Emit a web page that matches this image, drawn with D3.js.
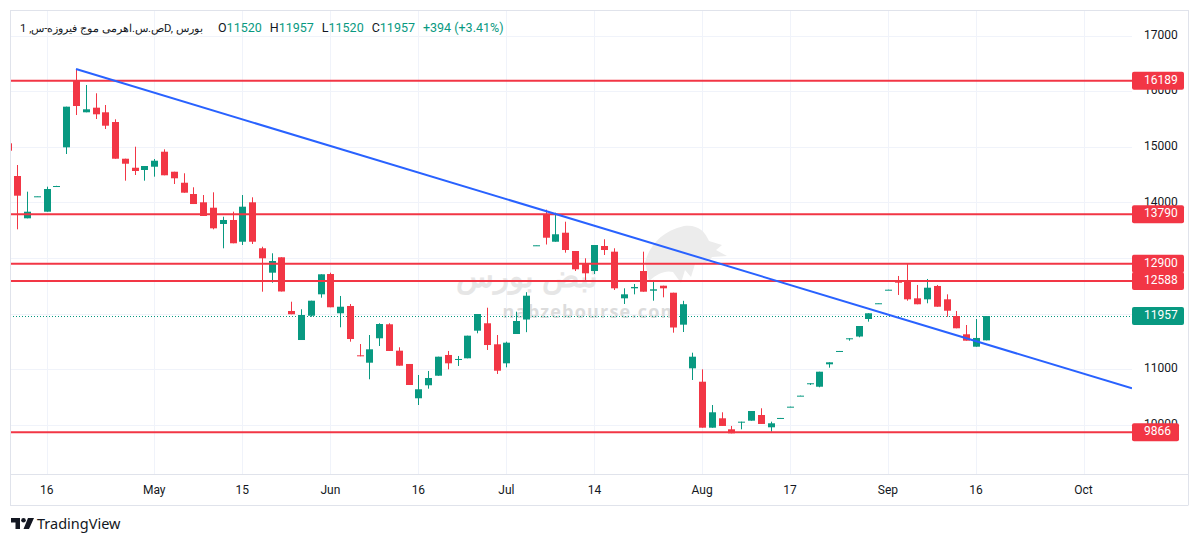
<!DOCTYPE html>
<html><head><meta charset="utf-8">
<script src="https://cdn.jsdelivr.net/npm/d3@7"></script>
<style>
body{margin:0;background:#fff;}
svg{display:block;font-family:"Trebuchet MS",Roboto,"Noto Sans",sans-serif;}
</style>
</head><body>
<svg id="c" width="1200" height="543"></svg>
<script>
// ---- data (first entry is the partly hidden bar at the left edge) ----
const opens  = [15064,14476,13715,14105,13834,14290,14992,16190,15622,15705,15622,15447,14787,14625,14584,14643,14913,14553,14355,14152,14003,13906,13613,13685,13294,14003,13176,12737,13014,12048,11526,11963,12348,12713,12007,12138,11251,11118,11557,11809,11334,11095,10478,10712,10884,11257,11167,11197,11694,11827,11449,11107,11634,11895,13225,13793,13294,13456,13127,12906,12767,13217,13115,12276,12456,12767,12413,12503,12377,11802,11017,10776,9949,10118,9920,10039,10075,10177,9956,10118,10320,10518,10742,10686,11089,11322,11550,11589,11904,12180,12425,12575,12588,12276,12258,12498,12258,11958,11629,11406,11520];
const highs  = [15100,14674,14194,14111,14284,14300,15723,16400,16113,15964,15753,15496,14787,15003,14656,14782,14956,14553,14525,14273,14134,14183,13744,13834,14134,14093,13204,13086,13014,12215,12079,12233,12708,12737,12318,12174,11454,11616,11827,11827,11395,11095,10897,10969,11226,11329,11239,11604,11994,12107,11616,11496,12035,12386,13230,13870,13816,13654,13127,12996,13235,13338,13176,12456,12534,13115,12606,12503,12377,12231,11298,10999,10357,10226,9980,10057,10249,10298,10057,10124,10327,10525,10748,10956,11125,11329,11557,11778,12007,12187,12431,12678,12893,12516,12624,12516,12348,12048,11796,11904,11957];
const lows   = [14900,13517,13715,14105,13834,14290,14872,15573,15622,15501,15321,14787,14392,14494,14392,14464,14489,14332,14176,13972,13757,13517,13176,13266,13235,13253,12395,12557,12399,11989,11526,11945,12287,12115,11755,11496,11233,10820,11418,11329,11064,10717,10357,10650,10884,10999,11059,11197,11647,11347,10915,11035,11634,11667,13225,13244,13294,13097,12767,12606,12713,13055,12426,12174,12348,12395,12233,12294,11658,11670,10807,9949,9949,9980,9848,9920,10075,10016,9877,10118,10320,10518,10717,10676,11028,11322,11514,11575,11856,12180,12425,12336,12233,12169,12187,12125,11945,11737,11514,11406,11520];
const closes = [14931,14122,13834,14111,14242,14296,15723,15735,15676,15586,15381,14787,14697,14566,14656,14751,14489,14435,14176,13972,13757,13535,13685,13266,13924,13294,12996,12947,12399,11989,11976,12233,12708,12115,12125,11544,11233,11359,11814,11329,11064,10717,10640,10843,11226,11107,11185,11604,11994,11436,10974,11478,11868,12323,13230,13366,13428,13145,12798,12726,13235,13145,12456,12348,12480,12395,12438,12456,11751,12170,11226,9949,10226,9980,9848,10057,10249,10016,10028,10124,10327,10525,10748,10956,11125,11329,11557,11778,12007,12187,12431,12557,12258,12169,12467,12125,12053,11737,11514,11563,11957];

const levels = [16189, 13790, 12900, 12588, 9866];
const lastPrice = 11957;
const trendBars = [7, 99];
const trendValues = [16400, 11506];

const tickLabels = ["16","May","15","Jun","16","Jul","14","Aug","17","Sep","16","Oct"];
const tickBars   = [4,15,24,33,42,51,60,71,80,90,99,110];
const gridPrices = [10000,11000,12000,13000,14000,15000,16000,17000];
const priceLabels = [10000,11000,14000,15000,16000,17000]; // 12000 and 13000 sit fully under the tags

const titleText = "ص.س.اهرمی موج فیروزه-س, 1D, بورس";
const ohlcLabels = ["O","H","L","C"];
const ohlcValues = ["11520","11957","11520","11957"];
const changeText = "+394 (+3.41%)";

// ---- layout ----
const UP="#089981", DOWN="#f23645", GRID="#f0f3fa", BORDER="#e0e3eb", TXT="#131722";
const plot={l:10,r:1132,t:10,b:474};
const svg=d3.select("#c");
const x=d3.scaleLinear().domain([0.2535,114.95]).range([plot.l,plot.r]);
const y=d3.scaleLinear().domain([9116,17462]).range([plot.b,plot.t]);

svg.append("defs").append("clipPath").attr("id","pc")
  .append("rect").attr("x",plot.l).attr("y",plot.t).attr("width",plot.r-plot.l).attr("height",plot.b-plot.t);

// grid
const g=svg.append("g");
g.selectAll(".hg").data(gridPrices).join("line")
  .attr("x1",plot.l).attr("x2",plot.r)
  .attr("y1",d=>Math.round(y(d))+0.5).attr("y2",d=>Math.round(y(d))+0.5)
  .attr("stroke",GRID);
g.selectAll(".vg").data(tickBars).join("line")
  .attr("x1",d=>Math.round(x(d))+0.5).attr("x2",d=>Math.round(x(d))+0.5)
  .attr("y1",plot.t).attr("y2",plot.b).attr("stroke",GRID);

// watermark
const wm=svg.append("g").attr("pointer-events","none");
wm.append("path").attr("fill","#ececec")
  .attr("d","M645,262 C650,245 662,231 684,226 C697,224 705,231 709,241 L722,245 L716,250 L727,256 L712,257 C708,263 701,266 695,264 L691,277 L685,270 L681,283 L673,272 C665,270 657,274 649,281 Z");
wm.append("text").attr("x",527).attr("y",287).attr("text-anchor","middle")
  .attr("font-size",31).attr("font-weight","bold").attr("fill","#e6e6e6")
  .attr("font-family","'Noto Sans',sans-serif").text("نبض بورس");
wm.append("text").attr("x",591).attr("y",318).attr("text-anchor","middle")
  .attr("font-size",18).attr("font-weight","bold").attr("letter-spacing",1.2).attr("fill","#dcdcdc")
  .attr("font-family","'Open Sans',sans-serif").text("nabzebourse.com");

const pg=svg.append("g").attr("clip-path","url(#pc)");

// last price dotted line
pg.append("line").attr("x1",plot.l).attr("x2",plot.r)
  .attr("y1",Math.round(y(lastPrice))+0.5).attr("y2",Math.round(y(lastPrice))+0.5)
  .attr("stroke",UP).attr("stroke-dasharray","1,2");

// candles
const bars=d3.range(opens.length).map(i=>({i,o:opens[i],h:highs[i],l:lows[i],c:closes[i]}));
const cg=pg.append("g");
cg.selectAll(".w").data(bars).join("line")
  .attr("x1",d=>Math.round(x(d.i))+0.5).attr("x2",d=>Math.round(x(d.i))+0.5)
  .attr("y1",d=>y(d.h)).attr("y2",d=>y(d.l))
  .attr("stroke",d=>d.c>=d.o?UP:DOWN).attr("stroke-width",1);
cg.selectAll(".b").data(bars).join("rect")
  .attr("x",d=>Math.round(x(d.i))-3).attr("width",7)
  .attr("y",d=>Math.min(y(d.o),y(d.c)))
  .attr("height",d=>Math.max(1,Math.abs(y(d.o)-y(d.c))))
  .attr("fill",d=>d.c>=d.o?UP:DOWN);

// horizontal levels
pg.selectAll(".lv").data(levels).join("line")
  .attr("x1",plot.l).attr("x2",plot.r)
  .attr("y1",d=>y(d)).attr("y2",d=>y(d))
  .attr("stroke",DOWN).attr("stroke-width",2);

// trend line extended to the right
const slope=(trendValues[1]-trendValues[0])/(trendBars[1]-trendBars[0]);
const endBar=x.domain()[1];
pg.append("line")
  .attr("x1",x(trendBars[0])).attr("y1",y(trendValues[0]))
  .attr("x2",x(endBar)).attr("y2",y(trendValues[0]+slope*(endBar-trendBars[0])))
  .attr("stroke","#2962ff").attr("stroke-width",2);

// borders
svg.append("line").attr("x1",plot.l).attr("x2",1188).attr("y1",plot.b+0.5).attr("y2",plot.b+0.5).attr("stroke",BORDER);
svg.append("line").attr("x1",plot.l).attr("x2",1188).attr("y1",505.5).attr("y2",505.5).attr("stroke",BORDER);
svg.append("line").attr("x1",plot.l+0.5).attr("x2",plot.l+0.5).attr("y1",plot.t).attr("y2",505.5).attr("stroke",BORDER);
svg.append("line").attr("x1",1188.5).attr("x2",1188.5).attr("y1",plot.t).attr("y2",505.5).attr("stroke",BORDER);
svg.append("line").attr("x1",plot.l).attr("x2",1188).attr("y1",plot.t+0.5).attr("y2",plot.t+0.5).attr("stroke",BORDER);

// time axis labels
svg.append("g").selectAll("text").data(tickBars).join("text")
  .attr("x",d=>x(d)).attr("y",491).attr("text-anchor","middle").attr("dominant-baseline","middle")
  .attr("font-size",12).attr("fill",TXT).text((d,i)=>tickLabels[i]);

// price axis labels
svg.append("g").selectAll("text").data(priceLabels).join("text")
  .attr("x",1144).attr("y",d=>y(d)).attr("dominant-baseline","middle")
  .attr("font-size",12).attr("fill",TXT).text(d=>d);

// level & last price tags
const tags=levels.map(v=>({v,col:DOWN})).concat([{v:lastPrice,col:UP}]);
const tg=svg.append("g");
tags.forEach(t=>{
  const txt=String(t.v);
  const w=txt.length>=5?52:47;
  tg.append("rect").attr("x",1132).attr("y",y(t.v)-9).attr("width",w).attr("height",18).attr("rx",2).attr("fill",t.col);
  tg.append("text").attr("x",1144).attr("y",y(t.v)).attr("dominant-baseline","middle")
    .attr("font-size",12).attr("fill","#fff").text(txt);
});

// header legend
const title=svg.append("text").attr("x",20).attr("y",32).attr("font-size",13).attr("fill",TXT).text(titleText);
const tw=title.node().getComputedTextLength();
const wantTitle=190;
if(tw>wantTitle) title.attr("font-size",13*wantTitle/tw);
const lg=svg.append("text").attr("x",218).attr("y",32).attr("font-size",12.5);
ohlcLabels.forEach((lab,i)=>{
  lg.append("tspan").attr("fill",TXT).attr("dx",i?8:0).text(lab);
  lg.append("tspan").attr("fill",UP).text(ohlcValues[i]);
});
lg.append("tspan").attr("fill",UP).attr("dx",8).text(changeText);
const lw=lg.node().getComputedTextLength();
if(lw>285) lg.attr("textLength",285).attr("lengthAdjust","spacingAndGlyphs");

// TradingView logo
const lo=svg.append("g").attr("fill",TXT);
lo.append("path").attr("d","M11,518 H20 V529 H15.5 V522.5 H11 Z");
lo.append("circle").attr("cx",23.5).attr("cy",520.3).attr("r",2.3);
lo.append("path").attr("d","M28,518 H34 L29,529 H23.5 Z");
svg.append("text").attr("x",37).attr("y",529).attr("font-size",14.5).attr("fill",TXT)
  .attr("font-family","'Noto Sans','Open Sans',sans-serif").text("TradingView");
</script>
</body></html>
